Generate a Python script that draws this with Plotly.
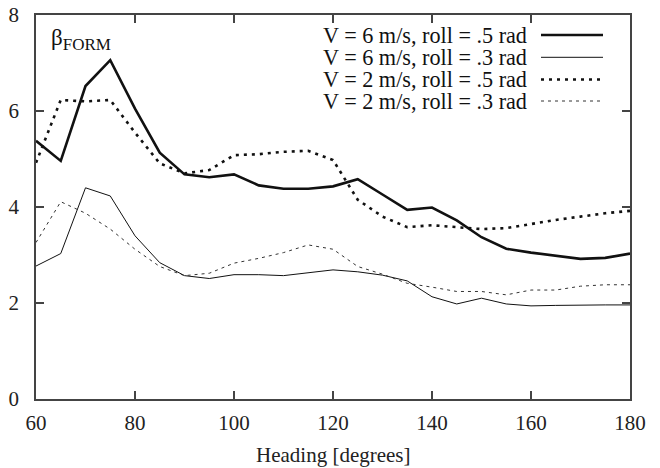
import plotly.graph_objects as go

heading = [60, 65, 70, 75, 80, 85, 90, 95, 100, 105, 110, 115, 120, 125, 130, 135, 140, 145, 150, 155, 160, 165, 170, 175, 180]

v6_r5 = [5.38, 4.96, 6.52, 7.06, 6.05, 5.13, 4.68, 4.62, 4.68, 4.45, 4.38, 4.38, 4.43, 4.58, 4.26, 3.94, 3.99, 3.72, 3.37, 3.13, 3.05, 2.98, 2.92, 2.94, 3.03]
v6_r3 = [2.77, 3.03, 4.40, 4.23, 3.40, 2.84, 2.57, 2.51, 2.59, 2.59, 2.57, 2.63, 2.69, 2.65, 2.58, 2.46, 2.13, 1.98, 2.10, 1.98, 1.94, 1.95, 1.96, 1.96, 1.96]
v2_r5 = [4.92, 6.23, 6.20, 6.23, 5.55, 4.91, 4.70, 4.77, 5.08, 5.10, 5.15, 5.17, 4.98, 4.15, 3.80, 3.58, 3.62, 3.58, 3.54, 3.56, 3.65, 3.73, 3.80, 3.87, 3.92]
v2_r3 = [3.26, 4.11, 3.87, 3.54, 3.12, 2.76, 2.57, 2.62, 2.83, 2.93, 3.05, 3.21, 3.12, 2.76, 2.60, 2.41, 2.33, 2.24, 2.24, 2.17, 2.27, 2.27, 2.35, 2.38, 2.38]

series_names = ["V = 6 m/s, roll = .5 rad", "V = 6 m/s, roll = .3 rad",
                "V = 2 m/s, roll = .5 rad", "V = 2 m/s, roll = .3 rad"]
series_vals = [v6_r5, v6_r3, v2_r5, v2_r3]
styles = [dict(color="#111111", width=2.6, dash="solid"),
          dict(color="#111111", width=1.0, dash="solid"),
          dict(color="#111111", width=2.6, dash="3px,5px"),
          dict(color="#333333", width=1.0, dash="3px,4px")]

x_ticks = [60, 80, 100, 120, 140, 160, 180]
y_ticks = [0, 2, 4, 6, 8]
x_title = "Heading [degrees]"

FONT = "Liberation Serif"
fig = go.Figure()
for name, vals, st in zip(series_names, series_vals, styles):
    fig.add_trace(go.Scatter(x=heading, y=vals, mode="lines", name=name,
                             line=st, showlegend=False))

# page body has an 8px default margin; the figure starts at (8, 8) in the window
OFF = 8
W, H = 652, 460
ml, mr, mt, mb = 28, 30, 7, 69
pw, ph = W - ml - mr, H - mt - mb
def px(x):
    return (x - OFF - ml) / pw
def py(y):
    return 1 - (y - OFF - mt) / ph

# gnuplot-style legend: text right-aligned, sample line on the right
rows = [35.0, 57.3, 79.5, 101.0]
for name, st, r in zip(series_names, styles, rows):
    fig.add_annotation(x=px(529), y=py(r), xref="paper", yref="paper",
                       text=name, showarrow=False, xanchor="right", yanchor="middle",
                       font=dict(family=FONT, size=22.2, color="#111"))
    fig.add_shape(type="line", xref="paper", yref="paper",
                  x0=px(541), x1=px(603), y0=py(r), y1=py(r),
                  line=dict(color=st["color"], width=st["width"], dash=st["dash"]))

fig.add_annotation(x=px(49), y=py(40), xref="paper", yref="paper",
                   text="β<sub><span style='font-size:17px'>FORM</span></sub>",
                   showarrow=False, xanchor="left", yanchor="middle",
                   font=dict(family=FONT, size=23, color="#111"))

# x-axis title
fig.add_annotation(x=px(333), y=py(455), xref="paper", yref="paper",
                   text=x_title, showarrow=False, xanchor="center", yanchor="middle",
                   font=dict(family=FONT, size=21, color="#222"))

axis_common = dict(showline=True, linecolor="#444", linewidth=1.6, mirror="ticks",
                   ticks="inside", ticklen=8, tickwidth=1.5, tickcolor="#444",
                   showgrid=False, zeroline=False, automargin=False,
                   ticklabeloverflow="allow",
                   tickfont=dict(family=FONT, size=21, color="#222"))
fig.update_xaxes(range=[60, 180], tickvals=x_ticks, ticktext=[str(t) for t in x_ticks],
                 ticklabelstandoff=4, **axis_common)
fig.update_yaxes(range=[0, 8], tickvals=y_ticks, ticktext=[str(t) for t in y_ticks],
                 ticklabelstandoff=11, **axis_common)

fig.update_layout(width=W, height=H, margin=dict(l=ml, r=mr, t=mt, b=mb),
                  paper_bgcolor="white", plot_bgcolor="white",
                  font=dict(family=FONT))
fig.write_html("out.html")
